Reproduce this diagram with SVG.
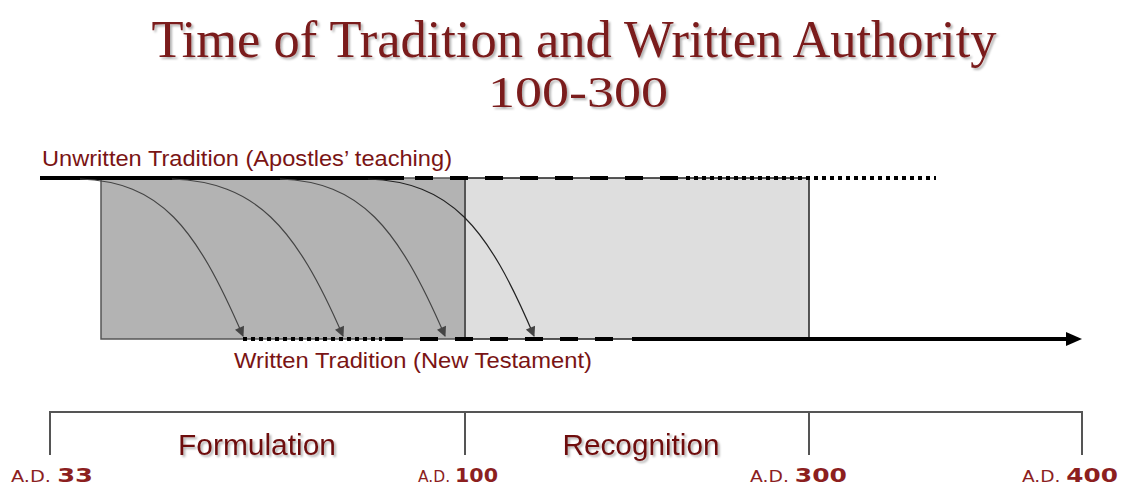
<svg xmlns="http://www.w3.org/2000/svg" width="1126" height="486" viewBox="0 0 1126 486">
<style>
.title{font-family:"Liberation Serif","DejaVu Serif",serif;fill:#7a1a1a;}
.lbl{font-family:"Liberation Sans",Arial,sans-serif;fill:#7a1414;}
.phase{font-family:"Liberation Sans",Arial,sans-serif;fill:#6e1010;font-size:30px;}
.ad{font-family:"DejaVu Sans","Liberation Sans",sans-serif;fill:#8c1f1f;}
.thick{stroke:#000;stroke-width:4;fill:none;}
.curve{stroke:#444;stroke-width:1.2;fill:none;marker-end:url(#ah);}
.bracket{stroke:#555;stroke-width:2;fill:none;}
</style>
<defs>
<filter id="sh" x="-5%" y="-20%" width="110%" height="150%">
<feDropShadow dx="2" dy="2" stdDeviation="1" flood-color="#000" flood-opacity="0.3"/>
</filter>
<marker id="ah" viewBox="0 0 10 10" refX="9" refY="5" markerWidth="11" markerHeight="10" markerUnits="userSpaceOnUse" orient="auto">
<path d="M0,0 L10,5 L0,10 Z" fill="#444"/>
</marker>
</defs>
<rect width="1126" height="486" fill="#fff"/>
<g id="title" filter="url(#sh)">
<text class="title" x="574" y="57" font-size="52" text-anchor="middle" textLength="845" lengthAdjust="spacingAndGlyphs">Time of Tradition and Written Authority</text>
<text class="title" x="578" y="107" font-size="44" text-anchor="middle" textLength="180" lengthAdjust="spacingAndGlyphs">100-300</text>
</g>
<g id="box-formulation">
<rect x="101" y="178" width="364" height="161" fill="#b3b3b3" stroke="#555" stroke-width="1.5"/>
</g>
<g id="box-recognition">
<rect x="465" y="178" width="344" height="161" fill="#dedede" stroke="#222" stroke-width="1.5"/>
<line x1="465" y1="178" x2="465" y2="339" stroke="#555" stroke-width="2"/>
</g>
<g id="unwritten">
<text class="lbl" x="42" y="166" font-size="22" textLength="410" lengthAdjust="spacingAndGlyphs">Unwritten Tradition (Apostles’ teaching)</text>
<path class="thick" d="M40,178 H404"/>
<path class="thick" d="M415,178 H682" stroke-dasharray="18 17"/>
<path class="thick" d="M686,178 H936" stroke-dasharray="4 4"/>
</g>
<g id="written">
<text class="lbl" x="234" y="368" font-size="22" textLength="358" lengthAdjust="spacingAndGlyphs">Written Tradition (New Testament)</text>
<path class="thick" d="M243,339 H382" stroke-dasharray="4 4"/>
<path class="thick" d="M385,339 H620" stroke-dasharray="18 17"/>
<path class="thick" d="M632,339 H1068"/>
<polygon points="1066,332 1082,339 1066,346" fill="#000"/>
</g>
<g id="connectors">
<path class="curve" d="M80,179 C160,182 195,225 243,336"/>
<path class="curve" d="M172,179 C255,182 295,225 343,336"/>
<path class="curve" d="M280,179 C360,182 397,225 445,336"/>
<path class="curve" d="M368,179 C450,182 487,225 534,336" style="stroke:#222"/>
</g>
<g id="timeline">
<path class="bracket" d="M50,455 V412 H1082 V455"/>
<path class="bracket" d="M465,412 V455"/>
<path class="bracket" d="M809,412 V455"/>
<text class="phase" x="257" y="455" text-anchor="middle" filter="url(#sh)" textLength="158" lengthAdjust="spacingAndGlyphs">Formulation</text>
<text class="phase" x="641" y="455" text-anchor="middle" filter="url(#sh)" textLength="157" lengthAdjust="spacingAndGlyphs">Recognition</text>
</g>
<g id="dates">
<text class="ad" x="11" y="482" textLength="82" lengthAdjust="spacingAndGlyphs"><tspan font-size="15">A.D. </tspan><tspan font-size="20" font-weight="bold">33</tspan></text>
<text class="ad" x="418" y="482" textLength="80" lengthAdjust="spacingAndGlyphs"><tspan font-size="15">A.D. </tspan><tspan font-size="20" font-weight="bold">100</tspan></text>
<text class="ad" x="750" y="482" textLength="97" lengthAdjust="spacingAndGlyphs"><tspan font-size="15">A.D. </tspan><tspan font-size="20" font-weight="bold">300</tspan></text>
<text class="ad" x="1022" y="482" textLength="96" lengthAdjust="spacingAndGlyphs"><tspan font-size="15">A.D. </tspan><tspan font-size="20" font-weight="bold">400</tspan></text>
</g>
</svg>
